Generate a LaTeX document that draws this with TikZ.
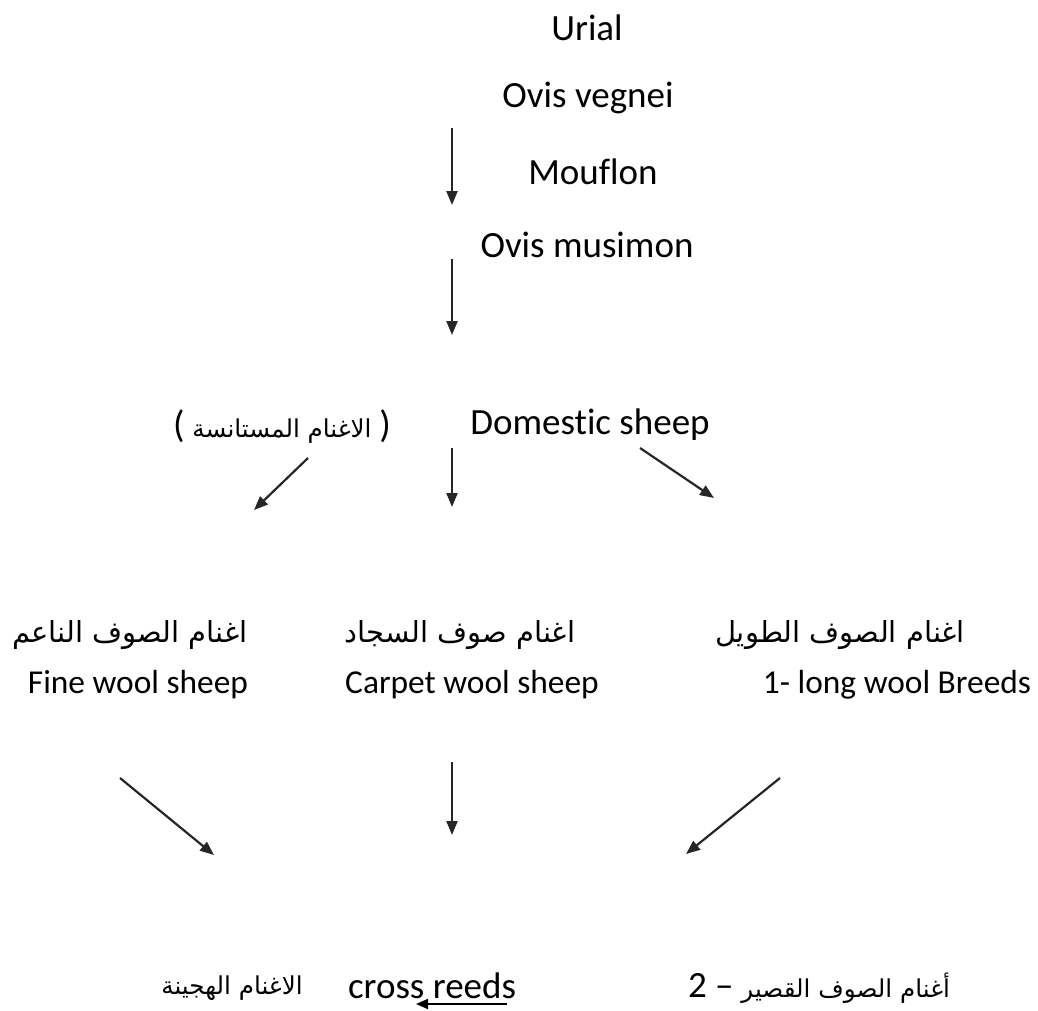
\documentclass[tikz,border=0pt]{standalone}
\usepackage{fontspec}
\setmainfont{Carlito}[Ligatures=CommonOff]
\newfontfamily\arabicfont[Script=Arabic]{DejaVu Sans}
\TeXXeTstate=1
\usepackage{tikz}
\usetikzlibrary{arrows.meta}
\tikzset{
  lbl/.style={inner sep=0pt, font=\fontsize{18.5}{22}\selectfont},
  smlbl/.style={inner sep=0pt, font=\fontsize{16.7}{20}\selectfont},
  arlbl/.style={inner sep=0pt, font=\fontsize{14.5}{19}\selectfont\arabicfont},
  smarlbl/.style={inner sep=0pt, font=\fontsize{12.3}{17}\selectfont\arabicfont},
  arr/.style={-{Triangle[length=7pt,width=5.5pt]}, line width=1.1pt, black!85}
}
\begin{document}
\begin{tikzpicture}[x=0.5pt, y=-0.5pt]
\useasboundingbox (0,0) rectangle (1038,1011);
% ancestors
\node[lbl] (urial) at (587,28) {Urial};
\node[lbl] (vegnei) at (588,98) {Ovis vegnei};
\node[lbl] (mouflon) at (593,172) {Mouflon};
\node[lbl] (musimon) at (587,245) {Ovis musimon};
\coordinate (a1s) at (452,128); \coordinate (a1e) at (452,205);
\coordinate (a2s) at (452,259); \coordinate (a2e) at (452,335);
\draw[arr] (a1s) -- (a1e);
\draw[arr] (a2s) -- (a2e);
% domestic sheep
\node[lbl] (domestic) at (590,425) {Domestic sheep};
\node[smarlbl] (domesticar) at (282,427)
  {{\normalfont\fontsize{19}{21}\selectfont(} \beginR الاغنام المستانسة\endR{} {\normalfont\fontsize{19}{21}\selectfont)}};
\coordinate (b1s) at (308,458); \coordinate (b1e) at (254,510);
\coordinate (b2s) at (452,448); \coordinate (b2e) at (452,507);
\coordinate (b3s) at (640,448); \coordinate (b3e) at (714,498);
\draw[arr] (b1s) -- (b1e);
\draw[arr] (b2s) -- (b2e);
\draw[arr] (b3s) -- (b3e);
% wool types
\node[arlbl] (finear) at (130,635) {\beginR اغنام الصوف الناعم\endR};
\node[arlbl] (carpetar) at (460,635) {\beginR اغنام صوف السجاد\endR};
\node[arlbl] (longar) at (840,635) {\beginR اغنام الصوف الطويل\endR};
\node[smlbl] (fine) at (138,685) {Fine wool sheep};
\node[smlbl] (carpet) at (472,685) {Carpet wool sheep};
\node[smlbl] (long) at (897,685) {1- long wool Breeds};
\coordinate (c1s) at (120,778); \coordinate (c1e) at (214,855);
\coordinate (c2s) at (452,762); \coordinate (c2e) at (452,835);
\coordinate (c3s) at (780,778); \coordinate (c3e) at (686,854);
\draw[arr] (c1s) -- (c1e);
\draw[arr] (c2s) -- (c2e);
\draw[arr] (c3s) -- (c3e);
% crosses
\node[smarlbl] (hybridar) at (232,988) {\beginR الاغنام الهجينة\endR};
\node[lbl] (cross) at (432,986) {cross reeds};
\node[smarlbl] (shortar) at (819,988) {{\normalfont\fontsize{18.5}{22}\selectfont 2 –} \beginR أغنام الصوف القصير\endR};
\coordinate (us) at (507,1004); \coordinate (ue) at (416,1004);
\draw[-{Triangle[length=6pt,width=5pt]}, line width=0.9pt] (us) -- (ue);
\end{tikzpicture}
\end{document}
